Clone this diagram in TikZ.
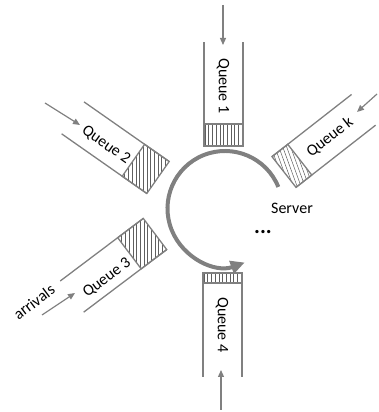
\documentclass[tikz,border=0pt]{standalone}
\usepackage{fontspec}
\setmainfont{Carlito}
\usetikzlibrary{arrows.meta}
\definecolor{lg}{RGB}{128,128,128}
\definecolor{hg}{RGB}{95,95,95}
\newcommand{\queuebox}[5]{% closed-end midpoint, axis angle, hatch length, hatch angle, length
  \begin{scope}[shift={#1}, rotate=#2]
    \draw[wall] (0,19.5) -- (#5,19.5);
    \draw[wall] (0,-19.5) -- (#5,-19.5);
    \begin{scope}
      \clip (0,-19.5) rectangle (#3,19.5);
      \pgfmathsetmacro\ha{#4-#2-90}
      \foreach \i in {-16,...,16}
        \draw[hatch, rotate=\ha] (\i*3.7,-80) -- (\i*3.7,80);
    \end{scope}
    \draw[wall] (0,-19.5) rectangle (#3,19.5);
  \end{scope}}
\begin{document}
\begin{tikzpicture}[x=1pt,y=1pt,
  wall/.style={draw=lg, line width=1.3pt},
  hatch/.style={draw=hg, line width=0.5pt},
  arr/.style={draw=lg, line width=1.2pt, -{Triangle[length=7pt,width=6pt]}},
  srv/.style={draw=lg, line width=4pt, -{Triangle[length=14pt,width=13pt]}},
  lbl/.style={font=\fontsize{16}{19}\selectfont, inner sep=0pt}]
\useasboundingbox (0,0) rectangle (378,412);
% queues
\queuebox{(223.5,266)}{90}{22}{90}{104}
\queuebox{(222.5,139)}{-90}{10}{90}{104}
\queuebox{(158,234.5)}{145}{30}{90}{104}
\queuebox{(155,178)}{217}{32}{90}{104}
\queuebox{(284,240)}{38}{20}{-70}{101}
% server
\coordinate (srvc) at (225,203.5);
\draw[srv] (srvc) ++(22:57.5) arc[start angle=22, end angle=290, radius=57.5];
% labels
\node[lbl, rotate=-90] (q1) at (223,326) {Queue 1};
\node[lbl, rotate=-90] (q4) at (222,87) {Queue 4};
\node[lbl, rotate=-35] (q2) at (106,267) {Queue 2};
\node[lbl, rotate=37] (q3) at (107,134) {Queue 3};
\node[lbl, rotate=38] (qk) at (330,275) {Queue k};
\node[lbl, rotate=37] (arrv) at (34,110) {arrivals};
\node[lbl] (server) at (292,204) {Server};
\node[inner sep=0pt, font=\fontsize{22}{24}\selectfont\bfseries] (dots) at (263,180) {...};
% arrival arrows
\coordinate (a1s) at (223,407); \coordinate (a1e) at (223,367);
\coordinate (a4s) at (221,2);   \coordinate (a4e) at (221,42);
\coordinate (a2s) at (45,309);  \coordinate (a2e) at (80,287);
\coordinate (a3s) at (42,97);   \coordinate (a3e) at (75,119);
\coordinate (aks) at (377,318); \coordinate (ake) at (357,300);
\draw[arr] (a1s) -- (a1e);
\draw[arr] (a4s) -- (a4e);
\draw[arr] (a2s) -- (a2e);
\draw[arr] (a3s) -- (a3e);
\draw[arr] (aks) -- (ake);
\end{tikzpicture}
\end{document}
